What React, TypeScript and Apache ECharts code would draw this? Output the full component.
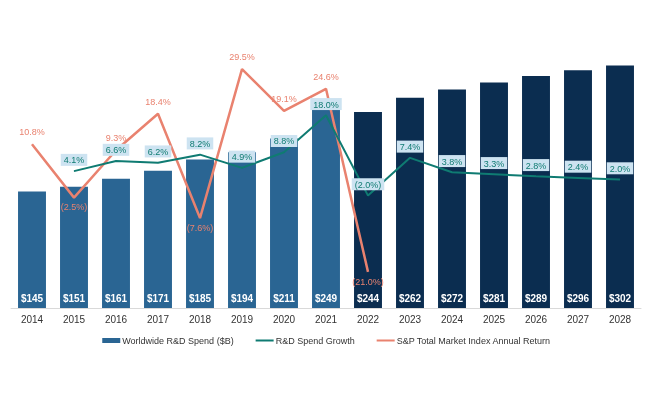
import React, { useEffect, useRef } from "react";
import * as echarts from "echarts";

const years = ["2014","2015","2016","2017","2018","2019","2020","2021","2022","2023","2024","2025","2026","2027","2028"];
const spend = [145,151,161,171,185,194,211,249,244,262,272,281,289,296,302];
const forecastFrom = 8; // index of 2022: bars from here use the dark colour
const growth = [null,4.1,6.6,6.2,8.2,4.9,8.8,18.0,-2.0,7.4,3.8,3.3,2.8,2.4,2.0];
const spReturn = [10.8,-2.5,9.3,18.4,-7.6,29.5,19.1,24.6,-21.0,null,null,null,null,null,null];

const histColor = "#2a6593";
const foreColor = "#0b2d50";
const teal = "#0f7b72";
const salmon = "#e9826f";
const FONT = "Arial, 'Liberation Sans', sans-serif";
const lineIcon = "path://M0,0 L18,0 L18,2 L0,2 Z";

const pct = (v: number) => (v < 0 ? `(${Math.abs(v).toFixed(1)}%)` : `${v.toFixed(1)}%`);

export default function App() {
  const ref = useRef<HTMLDivElement>(null);
  useEffect(() => {
    if (!ref.current) return;
    const chart = echarts.init(ref.current, undefined, { renderer: "svg" });
    chart.setOption({
      animation: false,
      textStyle: { fontFamily: FONT },
      grid: { left: 11, right: 12, top: 27, bottom: 92, containLabel: false, outerBoundsMode: "none" },
      legend: {
        bottom: 50,
        left: "center",
        itemWidth: 18,
        itemHeight: 5,
        itemGap: 22,
        symbolKeepAspect: true,
        textStyle: { fontSize: 9, color: "#333", fontFamily: FONT, padding: [0, 0, 0, -3] },
        data: [
          { name: "Worldwide R&D Spend ($B)", icon: "rect", itemStyle: { color: histColor } },
          { name: "R&D Spend Growth", icon: lineIcon },
          { name: "S&P Total Market Index Annual Return", icon: lineIcon },
        ],
      },
      xAxis: {
        type: "category",
        data: years,
        axisLine: { show: true, lineStyle: { color: "#d9d9d9", width: 1 } },
        axisTick: { show: false },
        axisLabel: { color: "#333", fontSize: 10, margin: 6, fontFamily: FONT },
      },
      yAxis: [
        { type: "value", min: 0, max: 350, show: false, splitLine: { show: false } },
        { type: "value", min: -30, max: 40, show: false, splitLine: { show: false } },
      ],
      series: [
        {
          name: "Worldwide R&D Spend ($B)",
          type: "bar",
          barCategoryGap: "33.5%",
          itemStyle: { color: histColor },
          data: spend.map((v, i) => ({ value: v, itemStyle: { color: i >= forecastFrom ? foreColor : histColor } })),
          label: {
            show: true,
            position: "insideBottom",
            distance: 5,
            color: "#fff",
            fontWeight: "bold",
            fontSize: 10,
            fontFamily: FONT,
            formatter: (p: any) => `$${p.value}`,
          },
          z: 1,
        },
        {
          name: "R&D Spend Growth",
          type: "line",
          yAxisIndex: 1,
          symbol: "circle",
          symbolSize: 0.5,
          showSymbol: true,
          color: teal,
          itemStyle: { color: teal },
          lineStyle: { color: teal, width: 2 },
          data: growth,
          label: {
            show: true,
            position: "top",
            distance: 5,
            color: teal,
            fontSize: 9,
            fontFamily: FONT,
            backgroundColor: "#cde3f1",
            padding: [2, 3, 1, 3],
            formatter: (p: any) => pct(p.value),
          },
          z: 3,
        },
        {
          name: "S&P Total Market Index Annual Return",
          type: "line",
          yAxisIndex: 1,
          symbol: "circle",
          symbolSize: 0.5,
          showSymbol: true,
          color: salmon,
          itemStyle: { color: salmon },
          lineStyle: { color: salmon, width: 2.5 },
          data: spReturn.map((v) =>
            v == null ? null : { value: v, label: { position: v < 0 ? "bottom" : "top", distance: v < 0 ? 5 : 7 } }
          ),
          label: {
            show: true,
            color: salmon,
            fontSize: 9,
            fontFamily: FONT,
            formatter: (p: any) => pct(p.value),
          },
          z: 2,
        },
      ],
    });
    return () => chart.dispose();
  }, []);
  return <div ref={ref} style={{ position: "fixed", left: 0, top: 0, width: 653, height: 400 }} />;
}
